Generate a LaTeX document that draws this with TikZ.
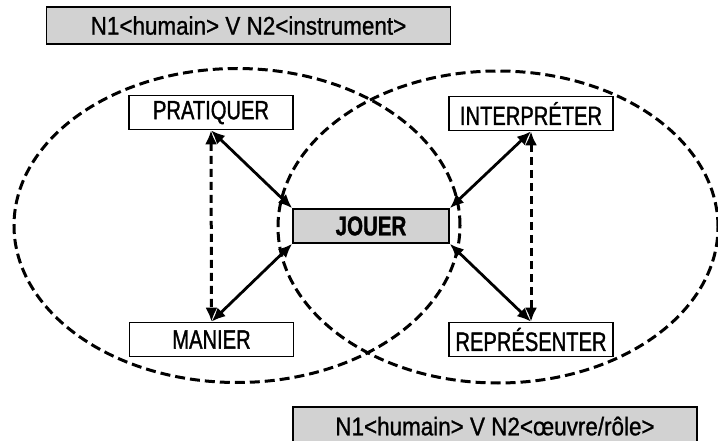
\documentclass[tikz,border=0pt]{standalone}
\usepackage{fontspec}
\setmainfont{Liberation Sans}
\newfontfamily\boitefont[FakeStretch=0.76, FakeBold=1.2]{Liberation Sans}
\newfontfamily\etiqfont[FakeStretch=0.88, FakeBold=1]{Liberation Sans}
\usetikzlibrary{arrows.meta}

\begin{document}
\begin{tikzpicture}[x=1pt, y=-1pt,
    boite/.style={draw, line width=1.6pt, fill=white, inner sep=0pt,
        minimum width=164pt, minimum height=34pt,
        font=\boitefont\fontsize{26.5}{28}\selectfont},
    etiquette/.style={draw, line width=1.6pt, fill=gray!35, inner sep=0pt,
        minimum width=404pt, minimum height=37pt,
        font=\etiqfont\fontsize{25.5}{27}\selectfont},
    cercle/.style={line width=3pt, dash pattern=on 10pt off 5pt},
    lien/.style={line width=2.8pt, <->, >={Latex[length=14pt,width=12pt]}},
    lienpointille/.style={lien, line width=3pt, dash pattern=on 8pt off 5pt}]
    \useasboundingbox (0,0) rectangle (718,441);
    % les deux ensembles
    \draw[cercle] (237,225.5) ellipse [x radius=223pt, y radius=157pt];
    \draw[cercle] (498,227) ellipse [x radius=220pt, y radius=156pt];
    % etiquettes grises
    \node[etiquette] (instr) at (248.5,25.5) {N1<humain> V N2<instrument>};
    \node[etiquette, minimum height=40pt] (oeuvre) at (495,427) {\raisebox{2pt}{N1<humain> V N2<œuvre/rôle>}};
    % les verbes
    \node[boite] (pratiquer) at (211,112.5) {PRATIQUER};
    \node[boite] (interpreter) at (531,113.5) {INTERPRÉTER};
    \node[boite, fill=gray!35, minimum width=156pt, font=\boitefont\bfseries\fontsize{27}{29}\selectfont] (jouer) at (371,226) {JOUER};
    \node[boite] (manier) at (211.5,339.5) {MANIER};
    \node[boite] (representer) at (531,339.5) {REPRÉSENTER};
    % fleches pleines
    \draw[lien] (pratiquer.south) -- (jouer.north west);
    \draw[lien] (interpreter.south) -- (jouer.north east);
    \draw[lien] (jouer.south west) -- (manier.north);
    \draw[lien] (jouer.south east) -- (representer.north);
    % fleches pointillees
    \draw[lienpointille] (pratiquer.south) -- (manier.north);
    \draw[lienpointille] (interpreter.south) -- (representer.north);
\end{tikzpicture}
\end{document}
